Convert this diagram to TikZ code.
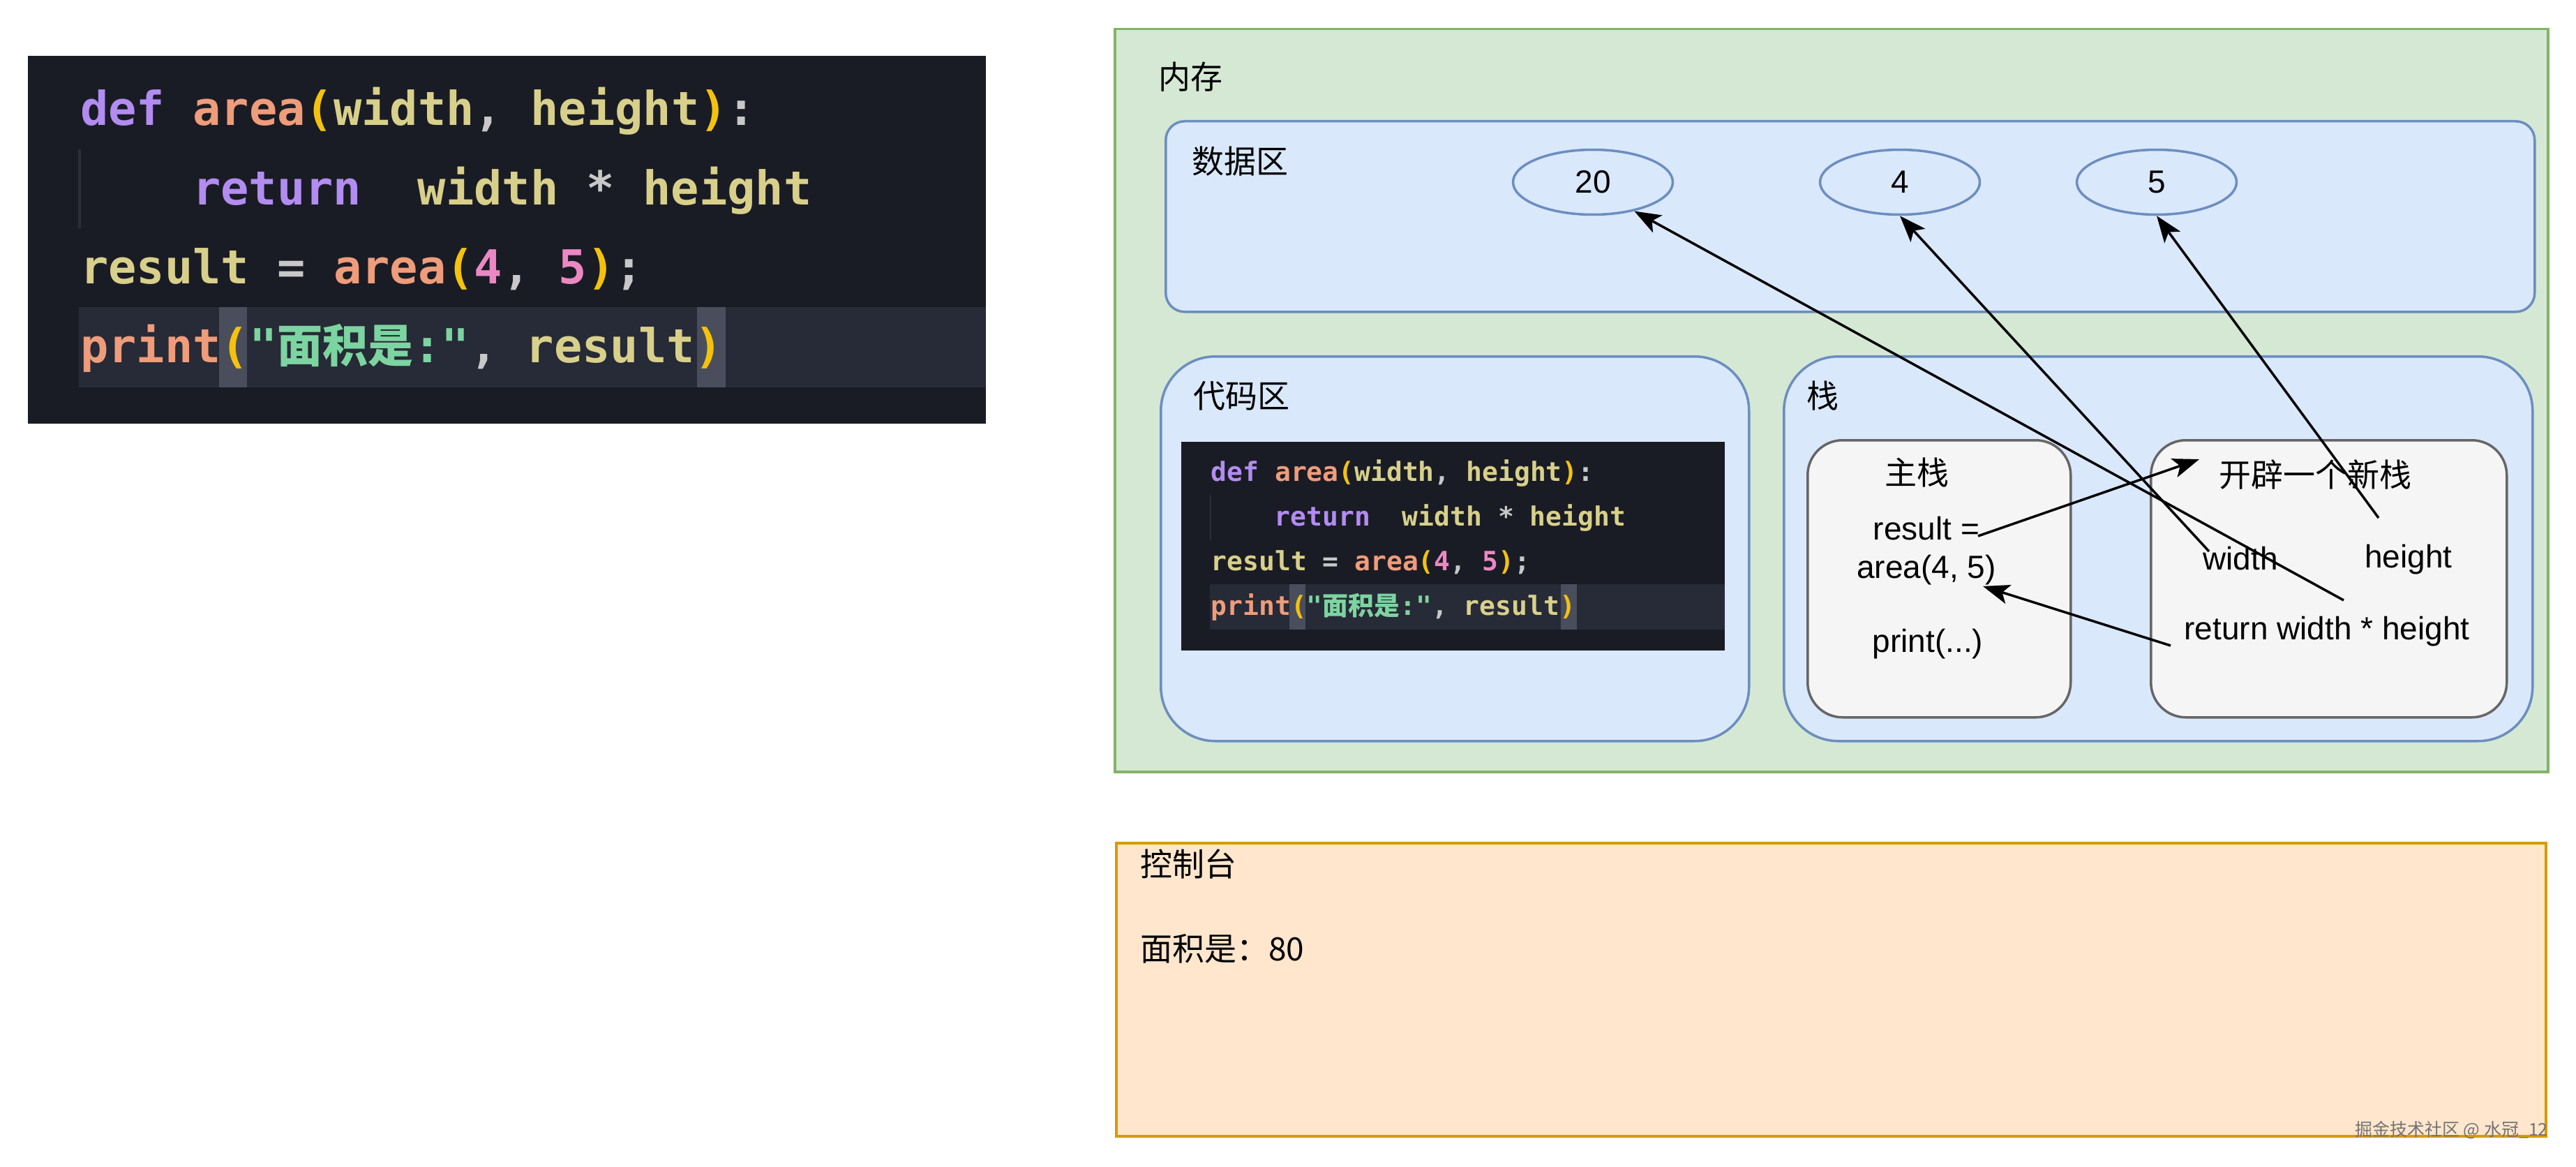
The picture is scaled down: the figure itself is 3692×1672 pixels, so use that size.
\documentclass[tikz,border=0pt]{standalone}
\usepackage{fontspec}
\setmainfont{Liberation Sans}
\newfontfamily\cjk{Noto Sans CJK SC}
\newfontfamily\codefont{DejaVu Sans Mono}
\usetikzlibrary{arrows.meta,shapes.geometric}

\definecolor{memFill}{HTML}{D5E8D4}
\definecolor{memStroke}{HTML}{82B366}
\definecolor{blueFill}{HTML}{DAE8FC}
\definecolor{blueStroke}{HTML}{6C8EBF}
\definecolor{grayFill}{HTML}{F5F5F5}
\definecolor{grayStroke}{HTML}{666666}
\definecolor{conFill}{HTML}{FFE6CC}
\definecolor{conStroke}{HTML}{D79B00}
\definecolor{codeBg}{HTML}{1A1C25}
\definecolor{codeHl}{HTML}{272A37}
\definecolor{codeBr}{HTML}{4A4E5C}
\definecolor{codeGuide}{HTML}{2C2F3B}
\definecolor{colKw}{HTML}{B28CF0}
\definecolor{colFn}{HTML}{EE9C7A}
\definecolor{colPa}{HTML}{F4C20D}
\definecolor{colId}{HTML}{D8D08A}
\definecolor{colNu}{HTML}{EB88C4}
\definecolor{colSt}{HTML}{7CD4A0}
\definecolor{colPu}{HTML}{C8C8C8}

\newcommand\cKw[1]{\textcolor{colKw}{#1}}
\newcommand\cFn[1]{\textcolor{colFn}{#1}}
\newcommand\cPa[1]{\textcolor{colPa}{#1}}
\newcommand\cId[1]{\textcolor{colId}{#1}}
\newcommand\cNu[1]{\textcolor{colNu}{#1}}
\newcommand\cSt[1]{\textcolor{colSt}{#1}}
\newcommand\cPu[1]{\textcolor{colPu}{#1}}

\tikzset{
  lbl/.style={inner sep=0pt, anchor=west, font=\cjk\fontsize{46}{52}\selectfont},
  txt/.style={inner sep=0pt, font=\fontsize{46}{52}\selectfont},
  bluebox/.style={draw=blueStroke, fill=blueFill, line width=3.5pt, anchor=north west, inner sep=0pt},
  graybox/.style={draw=grayStroke, fill=grayFill, line width=3.5pt, rounded corners=50pt, anchor=north west, inner sep=0pt},
  val/.style={ellipse, draw=blueStroke, fill=blueFill, line width=3.5pt, minimum width=229pt, minimum height=93pt, inner sep=0pt, font=\fontsize{46}{52}\selectfont},
  arr/.style={-{Stealth[length=38pt,width=28pt,inset=9pt]}, line width=3.5pt, black},
  codeline/.style={inner sep=0pt, anchor=base west, font=\codefont\bfseries\fontsize{67}{70}\selectfont},
}

\newcommand\codeimage[1]{%
  \fill[codeBg] (0,0) rectangle (1373,527);
  \fill[codeHl] (73,360) rectangle (1373,475);
  \fill[codeBr] (274,360) rectangle (314,475);
  \fill[codeBr] (959,360) rectangle (1000,475);
  \fill[codeGuide] (72,134) rectangle (76,247);
  \node[codeline] (#1l1) at (75,100) {\cKw{def}~\cFn{area}\cPa{(}\cId{width}\cPu{,}~\cId{height}\cPa{)}\cPu{:}};
  \node[codeline] (#1l2) at (236,213) {\cKw{return}~~\cId{width}~\cPu{*}~\cId{height}};
  \node[codeline] (#1l3) at (75,326) {\cId{result}~\cPu{=}~\cFn{area}\cPa{(}\cNu{4}\cPu{,}~\cNu{5}\cPa{)}\cPu{;}};
  \node[codeline] (#1l4) at (75,439) {\cFn{print}\cPa{(}\cSt{"{\cjk\bfseries\fontsize{65}{70}\selectfont 面积是}:"}\cPu{,}~\cId{result}\cPa{)}};
}

\begin{document}
\begin{tikzpicture}[x=1pt,y=-1pt]
\useasboundingbox (0,0) rectangle (3692,1672);
\fill[white] (0,0) rectangle (3692,1672);

% left code image
\begin{scope}[shift={(40,80)}]
  \codeimage{big}
\end{scope}

% memory
\node[draw=memStroke, fill=memFill, line width=3.5pt, anchor=north west, inner sep=0pt,
      minimum width=2054pt, minimum height=1064pt] (mem) at (1596,40) {};
\node[lbl] (memL) at (1660,110) {内存};

% data area
\node[bluebox, rounded corners=27pt, minimum width=1962pt, minimum height=273pt] (data) at (1669,172) {};
\node[lbl] (dataL) at (1708,231) {数据区};
\node[val] (e20) at (2283,261) {20};
\node[val] (e4) at (2723,261) {4};
\node[val] (e5) at (3091,261) {5};

% code area
\node[bluebox, rounded corners=78pt, minimum width=843pt, minimum height=551pt] (code) at (1662,509) {};
\node[lbl] (codeL) at (1710,567) {代码区};
\begin{scope}[shift={(1693,633)}, scale=0.567, transform shape]
  \codeimage{small}
\end{scope}

% stack area
\node[bluebox, rounded corners=78pt, minimum width=1073pt, minimum height=551pt] (stack) at (2555,509) {};
\node[lbl] (stackL) at (2589,567) {栈};

\node[graybox, minimum width=377pt, minimum height=397pt] (mainS) at (2589,629) {};
\node[graybox, minimum width=510pt, minimum height=397pt] (newS) at (3081,629) {};

\node[lbl, anchor=center] (mainL) at (2747,677) {主栈};
\node[lbl, anchor=center] (newL) at (3318,680) {开辟一个新栈};
\node[txt] (resA) at (2761,757) {result =};
\node[txt] (resB) at (2761,817) {area(4, 5)};
\node[txt] (prt) at (2763,923) {print(...)};
\node[txt] (wid) at (3211,800) {width};
\node[txt] (hei) at (3452,802) {height};
\node[txt] (ret) at (3335,905) {return width * height};

% connectors
\coordinate (hS) at (3409,742);
\coordinate (wS) at (3166,790);
\coordinate (rS) at (3359,860);
\coordinate (aS) at (2835,768);
\coordinate (aE) at (3152,658);
\coordinate (bS) at (3111,925);
\coordinate (bE) at (2842,840);
\draw[arr] (hS) -- (e5.south);
\draw[arr] (wS) -- (e4.south);
\draw[arr] (rS) -- (e20.-35);
\draw[arr] (aS) -- (aE);
\draw[arr] (bS) -- (bE);

% console
\node[draw=conStroke, fill=conFill, line width=3.5pt, anchor=north west, inner sep=0pt,
      minimum width=2049pt, minimum height=420pt] (con) at (1598,1206) {};
\node[lbl] (conL) at (1634,1238) {控制台};
\node[lbl] (conOut) at (1634,1359) {面积是：80};

% watermark
\node[inner sep=0pt, anchor=east, font=\cjk\fontsize{25}{27}\selectfont, text=black!55] (wm) at (3652,1619) {掘金技术社区 @ 水冠\_12};
\end{tikzpicture}
\end{document}
